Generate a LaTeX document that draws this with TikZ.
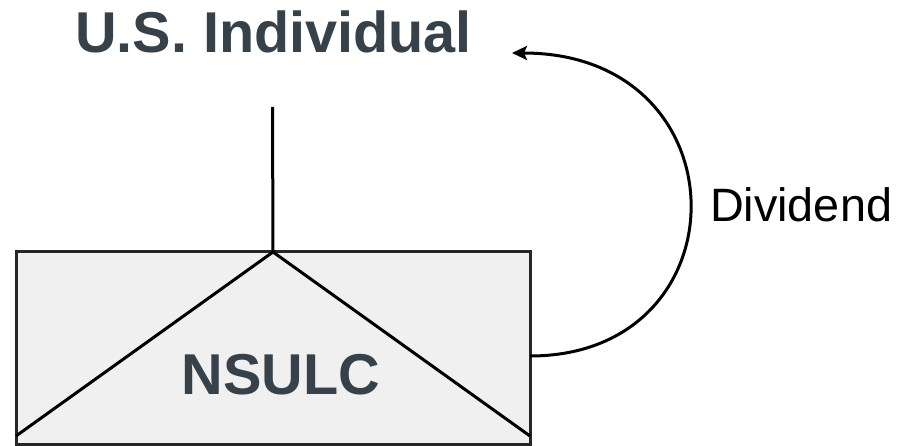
\documentclass[tikz,border=0pt]{standalone}
\usepackage{fontspec}
\setmainfont{Liberation Sans}
\usetikzlibrary{arrows.meta}
\definecolor{slate}{RGB}{55,65,74}
\definecolor{boxfill}{RGB}{240,240,240}
\tikzset{
  lbl/.style={inner sep=0pt, outer sep=0pt},
  heading/.style={lbl, font=\fontsize{57.6}{60}\selectfont\bfseries, text=slate},
  plainlbl/.style={lbl, font=\fontsize{46.8}{50}\selectfont, text=black},
  entity/.style={draw=black!85, fill=boxfill, line width=3pt, inner sep=0pt, outer sep=0pt,
                 minimum width=514pt, minimum height=192pt},
  wire/.style={line width=3pt, black},
}
\begin{document}
\begin{tikzpicture}[x=1pt, y=-1pt]
\useasboundingbox (0,0) rectangle (897,446);
\node[entity] (box) at (273,348) {};
\coordinate (apex) at (273,252);
\coordinate (bl) at (16,436);
\coordinate (br) at (530,436);
\draw[wire] (bl) -- (apex) -- (br);
\node[heading, anchor=base] (nsulc) at (281,394) {NSULC};
\node[heading, anchor=base] (title) at (273.5,53) {U.S. Individual};
\coordinate (linetop) at (272.5,107);
\draw[wire] (linetop) -- (apex);
\node[plainlbl, anchor=base west] (div) at (710,222) {Dividend};
\coordinate (start) at (box.east |- 0,356);
\coordinate (tip) at (512,53);
\draw[wire, -{Stealth[length=15pt, width=14pt, inset=3pt]}]
  (start) .. controls (746,356) and (746,53) .. (tip);
\end{tikzpicture}
\end{document}
